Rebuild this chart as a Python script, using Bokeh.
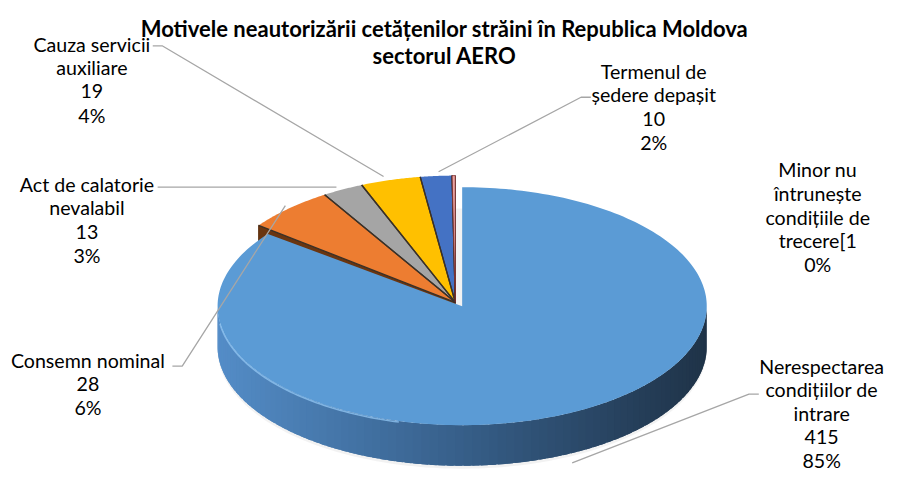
import numpy as np
from bokeh.plotting import figure
from bokeh.models import Range1d
from bokeh.core.properties import value
from bokeh.embed import file_html
from bokeh.resources import INLINE

# ---------------- data ----------------
title_lines = ["Motivele neautorizării cetățenilor străini în Republica Moldova",
               "sectorul AERO"]
categories = ["Nerespectarea condițiilor de intrare",
              "Consemn nominal",
              "Act de calatorie nevalabil",
              "Cauza servicii auxiliare",
              "Termenul de ședere depașit",
              "Minor nu întrunește condițiile de trecere["]
counts = [415, 28, 13, 19, 10, 1]
name_lines = [["Nerespectarea", "condițiilor de", "intrare"],
              ["Consemn nominal"],
              ["Act de calatorie", "nevalabil"],
              ["Cauza servicii", "auxiliare"],
              ["Termenul de", "ședere depașit"],
              ["Minor nu", "întrunește", "condițiile de", "trecere["]]
value_inline = [False, False, False, False, False, True]
colors = ["#5B9BD5", "#ED7D31", "#A5A5A5", "#FFC000", "#4472C4", "#E9A3A1"]

# ---------------- layout (positions / styles) ----------------
BIG = dict(cx=470.0, cy=316.0, R=249.0, r=123.0)
SMALL = dict(cx=463.0, cy=312.0, R=252.0, r=131.0)
DEPTH = 42.0
label_pos = [(836, 378), (89, 372), (88, 190), (93, 45), (665, 73), (832, 175)]
line_gap = 24.5
leaders = [[(772, 407), (762, 407), (582, 478)],
           [(175, 378), (185, 378), (290, 212)],
           [(160, 193), (342, 193)],
           [(155, 47), (165, 47), (390, 182)],
           [(601, 100), (591, 100), (446, 177)],
           None]
FONT = "Lato"
FS = "19.6px"
TITLE_FS = "22px"

total = float(sum(counts))
fracs = [c / total for c in counts]
pcts = [f"{round(f * 100):.0f}%" for f in fracs]
ends = np.cumsum([f * 360.0 for f in fracs])
starts = np.concatenate([[0.0], ends[:-1]])


def pt(g, ang_deg, dy=0.0):
    a = np.radians(ang_deg)
    return g["cx"] + g["R"] * np.sin(a), g["cy"] - g["r"] * np.cos(a) + dy


def arc(g, a0, a1, n=80, dy=0.0):
    angs = np.linspace(a0, a1, max(2, n))
    xs, ys = pt(g, angs, dy)
    return list(xs), list(ys)


p = figure(width=886, height=474, x_range=Range1d(0, 902), y_range=Range1d(490, 0),
           output_backend="svg", toolbar_location=None, min_border=0)
p.axis.visible = False
p.grid.visible = False
p.outline_line_color = None
p.background_fill_color = "white"
p.border_fill_color = "white"

# soft shadow under the pie
sx, sy = arc(BIG, 90, 270, 120, dy=DEPTH + 3)
sx2, sy2 = arc(BIG, 270, 450, 120, dy=DEPTH - 20)
p.patch(sx + sx2, sy + sy2, fill_color="#DADADA", fill_alpha=0.35, line_color=None)

# radial face of the first small slice (visible in the gap)
a = starts[1]
ax, ay = SMALL["cx"], SMALL["cy"]
rx, ry = pt(SMALL, a)
p.patch([ax, rx, rx, ax], [ay, ry, ry + DEPTH, ay + DEPTH],
        fill_color="#6A3510", line_color="#5A2C0C", line_width=1)

# small slices (top surfaces)
for i in range(1, len(counts)):
    xs, ys = arc(SMALL, starts[i], ends[i], 40)
    p.patch([SMALL["cx"]] + xs, [SMALL["cy"]] + ys, fill_color=colors[i],
            line_color=None)
# dark boundaries between the small slices
for i in range(1, len(counts)):
    for ang in (starts[i], ends[i]):
        bx, by = pt(SMALL, ang)
        p.line([SMALL["cx"], bx], [SMALL["cy"], by], line_color="#3A3128",
               line_width=1.3)
# outline of the tiny sliver
xs, ys = arc(SMALL, starts[5], ends[5], 5)
p.patch([SMALL["cx"]] + xs, [SMALL["cy"]] + ys, fill_color=colors[5],
        line_color="#7A2A2A", line_width=0.8)


# big slice side wall with gradient strips
def mix(c1, c2, t):
    a1 = np.array([int(c1[k:k + 2], 16) for k in (1, 3, 5)], float)
    a2 = np.array([int(c2[k:k + 2], 16) for k in (1, 3, 5)], float)
    c = a1 + (a2 - a1) * t
    return "#%02x%02x%02x" % tuple(int(round(v)) for v in c)


side_lo, side_hi = 90.0, min(270.0, ends[0])
n_strips = 90
edges = np.linspace(side_lo, side_hi, n_strips + 1)
step = edges[1] - edges[0]
strip_xs, strip_ys, strip_cols = [], [], []
for k in range(n_strips):
    a0 = edges[k]
    a1 = min(side_hi, edges[k + 1] + 0.8 * step)
    tx, ty = arc(BIG, a0, a1, 5)
    bx, by = arc(BIG, a1, a0, 5, dy=DEPTH)
    strip_xs.append(tx + bx)
    strip_ys.append(ty + by)
    xm = pt(BIG, (edges[k] + edges[k + 1]) / 2)[0]
    t = (xm - (BIG["cx"] - BIG["R"])) / (2 * BIG["R"])
    if t < 0.5:
        col = mix("#548DC8", "#37608B", t / 0.5)
    else:
        col = mix("#37608B", "#1F3348", (t - 0.5) / 0.5)
    strip_cols.append(col)
# draw from right to left so overlaps hide seams consistently
p.patches(strip_xs[::-1], strip_ys[::-1], fill_color=strip_cols[::-1],
          line_color=None)

# big slice top
xs, ys = arc(BIG, starts[0], ends[0], 240)
p.patch([BIG["cx"]] + xs, [BIG["cy"]] + ys, fill_color=colors[0], line_color=None)
# highlight along the front-left rim
hx, hy = arc(BIG, 195, 262, 60, dy=1)
p.line(hx, hy, line_color="#8FC3F0", line_width=1.6, line_alpha=0.8)

# leader lines
for ld in leaders:
    if ld is None:
        continue
    p.line([q[0] for q in ld], [q[1] for q in ld], line_color="#A6A6A6",
           line_width=1.3)

# data labels
for i in range(len(counts)):
    lines = list(name_lines[i])
    if value_inline[i]:
        lines[-1] = lines[-1] + str(counts[i])
    else:
        lines.append(str(counts[i]))
    lines.append(pcts[i])
    x0, y0 = label_pos[i]
    p.text(x=[x0] * len(lines), y=[y0 + k * line_gap for k in range(len(lines))],
           text=lines, text_align="center", text_baseline="middle",
           text_font=value(FONT), text_font_size=value(FS), text_color="#000000")

# title
p.text(x=[452, 452], y=[29, 57], text=title_lines, text_align="center",
       text_baseline="alphabetic", text_font=value(FONT),
       text_font_style="bold", text_font_size=value(TITLE_FS), text_color="#000000")

open("out.html", "w").write(file_html(p, INLINE))
